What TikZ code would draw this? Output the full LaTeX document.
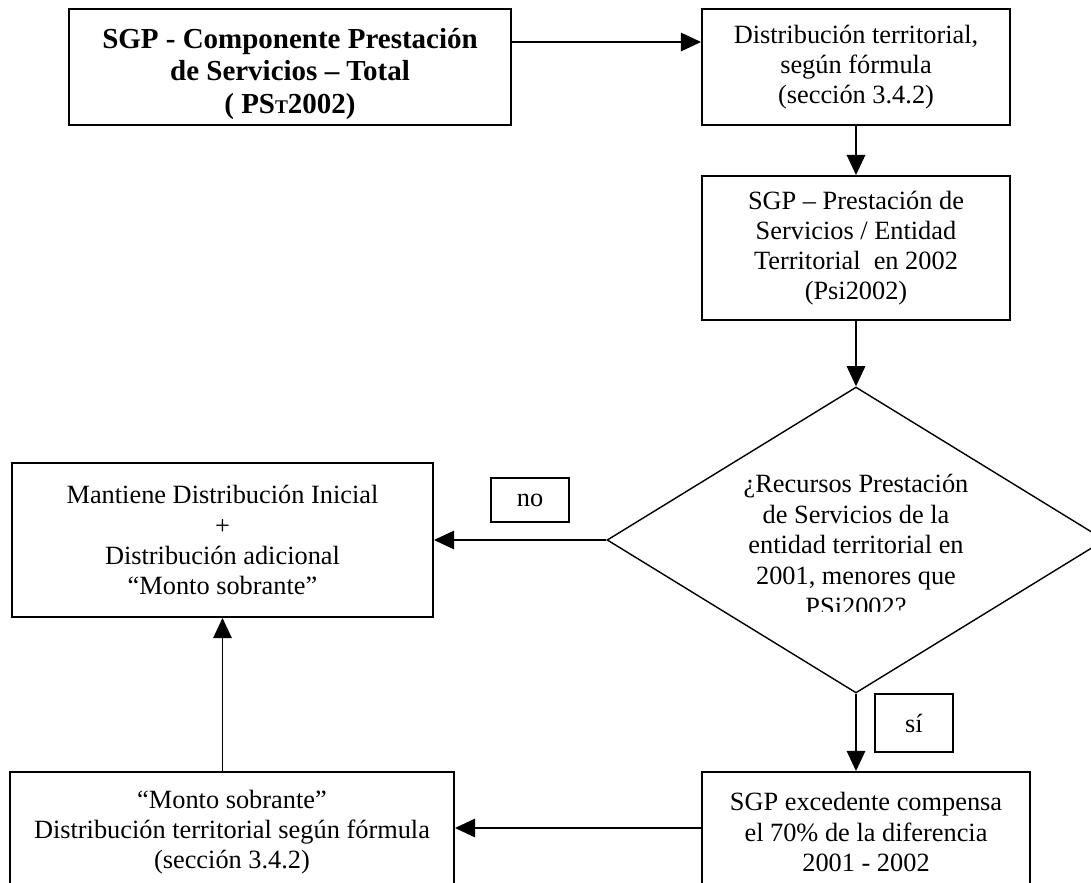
\documentclass[tikz,border=0pt]{standalone}
\usepackage{fontspec}
\setmainfont{Liberation Serif}
\usetikzlibrary{shapes.geometric,arrows.meta}

\begin{document}
\begin{tikzpicture}[x=0.02cm, y=-0.02cm,
        caja/.style={draw=black, line width=1.1pt, inner sep=0pt, align=center,
            font=\fontsize{15}{17.1}\selectfont},
        rombo/.style={diamond, draw=black, line width=0.8pt, inner sep=0pt},
        flecha/.style={line width=1.1pt, -{Triangle[length=11.5pt, width=10.5pt]}}]
            % Marco
            \useasboundingbox (0,0) rectangle (1091,882);
            \clip (0,0) rectangle (1091,882);

            % Cajas
            \node[caja, minimum width=8.84cm, minimum height=2.32cm] (total) at (290,67) {};
            \begin{scope}
                \clip (69,9) rectangle (511,118);
                \node[align=center, inner sep=0pt, font=\fontsize{16.5}{18.5}\selectfont\bfseries] (totaltxt) at (290,74)
                    {SGP - Componente Prestación\\de Servicios – Total\\( PS{\fontsize{11}{11}\selectfont T}2002)};
            \end{scope}
            \node[caja, minimum width=6.16cm, minimum height=2.32cm] (formula) at (856,67)
                {Distribución territorial,\\según fórmula\\(sección 3.4.2)};
            \node[caja, minimum width=6.16cm, minimum height=2.88cm] (entidad) at (856,248)
                {SGP – Prestación de\\Servicios / Entidad\\Territorial~ en 2002\\(Psi2002)};

            % Rombo
            \node[rombo, minimum width=9.96cm, minimum height=6.12cm] (recursos) at (856,540) {};
            \begin{scope}
                \clip (600,380) rectangle (1091,611);
                \node[align=center, inner sep=0pt, font=\fontsize{15}{17.4}\selectfont] (recursostxt) at (856,545)
                    {¿Recursos Prestación\\de Servicios de la\\entidad territorial en\\2001, menores que\\PSi2002?};
            \end{scope}

            % Ramas
            \node[caja, minimum width=8.42cm, minimum height=3.08cm] (mantiene) at (222.5,540)
                {Mantiene Distribución Inicial\\+\\Distribución adicional\\“Monto sobrante”};
            \node[caja, minimum width=1.56cm, minimum height=0.88cm] (no) at (530,500) {no};
            \node[caja, minimum width=1.56cm, minimum height=1.16cm] (si) at (914,723) {sí};
            \node[caja, minimum width=6.56cm, minimum height=2.4cm] (excedente) at (866,832)
                {SGP excedente compensa\\el 70\% de la diferencia\\2001 - 2002};
            \node[caja, minimum width=8.88cm, minimum height=2.4cm] (sobrante) at (232,832)
                {“Monto sobrante”\\Distribución territorial según fórmula\\(sección 3.4.2)};

            % Flechas
            \draw[flecha] ([yshift=0.5cm]total.east) -- ([yshift=0.5cm]formula.west);
            \draw[flecha] (formula.south) -- (entidad.north);
            \draw[flecha] (entidad.south) -- (recursos.north);
            \draw[flecha] (recursos.west) -- (mantiene.east);
            \draw[flecha] (recursos.south) -- (recursos.south |- excedente.north);
            \draw[flecha] ([yshift=0.08cm]excedente.west) -- ([yshift=0.08cm]sobrante.east);
            \draw[flecha] (sobrante.north -| mantiene.south) -- (mantiene.south);
        \end{tikzpicture}
\end{document}
